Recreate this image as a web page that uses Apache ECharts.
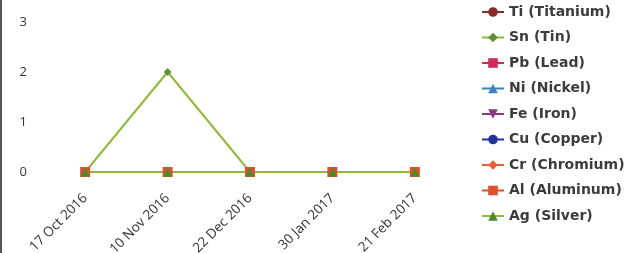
<!DOCTYPE html>
<html>
<head>
<meta charset="utf-8">
<script src="https://cdn.jsdelivr.net/npm/echarts@6/dist/echarts.min.js"></script>
<style>
  html, body { margin: 0; padding: 0; background: #fff; }
  #chart { width: 639px; height: 253px; }
</style>
</head>
<body>
<div id="chart"></div>
<script>
// sample dates
const dates = ['17 Oct 2016', '10 Nov 2016', '22 Dec 2016', '30 Jan 2017', '21 Feb 2017']

const ti = [0, 0, 0, 0, 0]
const sn = [0, 2, 0, 0, 0]
const pb = [0, 0, 0, 0, 0]
const ni = [0, 0, 0, 0, 0]
const fe = [0, 0, 0, 0, 0]
const cu = [0, 0, 0, 0, 0]
const cr = [0, 0, 0, 0, 0]
const al = [0, 0, 0, 0, 0]
const ag = [0, 0, 0, 0, 0]

const yTicks = [0, 1, 2, 3]

let metals = [
  { name: 'Ti (Titanium)', data: ti, color: '#8a2a2a', symbol: 'circle', size: 8 },
  { name: 'Sn (Tin)', data: sn, color: '#5f9236', symbol: 'diamond', size: 8 },
  { name: 'Pb (Lead)', data: pb, color: '#cf2a5a', symbol: 'rect', size: 9 },
  { name: 'Ni (Nickel)', data: ni, color: '#3b82c4', symbol: 'triangle', size: 8 },
  { name: 'Fe (Iron)', data: fe, color: '#8c3a7e', symbol: 'path://M0,0L10,0L5,9Z', size: 8 },
  { name: 'Cu (Copper)', data: cu, color: '#24339a', symbol: 'circle', size: 8 },
  { name: 'Cr (Chromium)', data: cr, color: '#e8603a', symbol: 'diamond', size: 8 },
  { name: 'Al (Aluminum)', data: al, color: '#e0502c', symbol: 'rect', size: 10 },
  { name: 'Ag (Silver)', data: ag, color: '#4d8a2c', symbol: 'triangle', size: 9 }
]

let lineColor = '#93b83c'

let option = {
  animation: false,
  backgroundColor: '#fff',
  grid: { left: 44, right: 183, top: 22, bottom: 81, containLabel: false, outerBoundsMode: 'none' },
  legend: {
    orient: 'vertical',
    left: 476,
    top: 0,
    itemWidth: 22,
    itemHeight: 12,
    itemGap: 11.5,
    textStyle: { fontFamily: 'DejaVu Sans', fontSize: 14, fontWeight: 'bold', color: '#3c3c3c' },
    data: metals.map(m => m.name)
  },
  xAxis: {
    type: 'category',
    boundaryGap: true,
    data: dates,
    axisLine: { show: false },
    axisTick: { show: false },
    axisLabel: { rotate: 45, margin: 24, fontFamily: 'Open Sans', fontSize: 13.5, color: '#333' }
  },
  yAxis: {
    type: 'value',
    min: yTicks[0],
    max: yTicks[yTicks.length - 1],
    interval: 1,
    splitLine: { show: false },
    axisLine: { show: false },
    axisTick: { show: false },
    axisLabel: { margin: 17, fontFamily: 'Open Sans', fontSize: 13, color: '#333' }
  },
  graphic: [
    { type: 'rect', shape: { x: 0, y: 0, width: 2, height: 253 }, style: { fill: '#555' }, silent: true }
  ],
  series: metals.map(m => ({
    name: m.name,
    type: 'line',
    data: m.data,
    symbol: m.symbol,
    symbolSize: m.size,
    showAllSymbol: true,
    itemStyle: { color: m.color },
    lineStyle: { color: m.color === '#5f9236' || m.color === '#4d8a2c' ? lineColor : m.color, width: 2 }
  }))
}

let myChart = echarts.init(document.getElementById('chart'))
myChart.setOption(option)
</script>
</body>
</html>
